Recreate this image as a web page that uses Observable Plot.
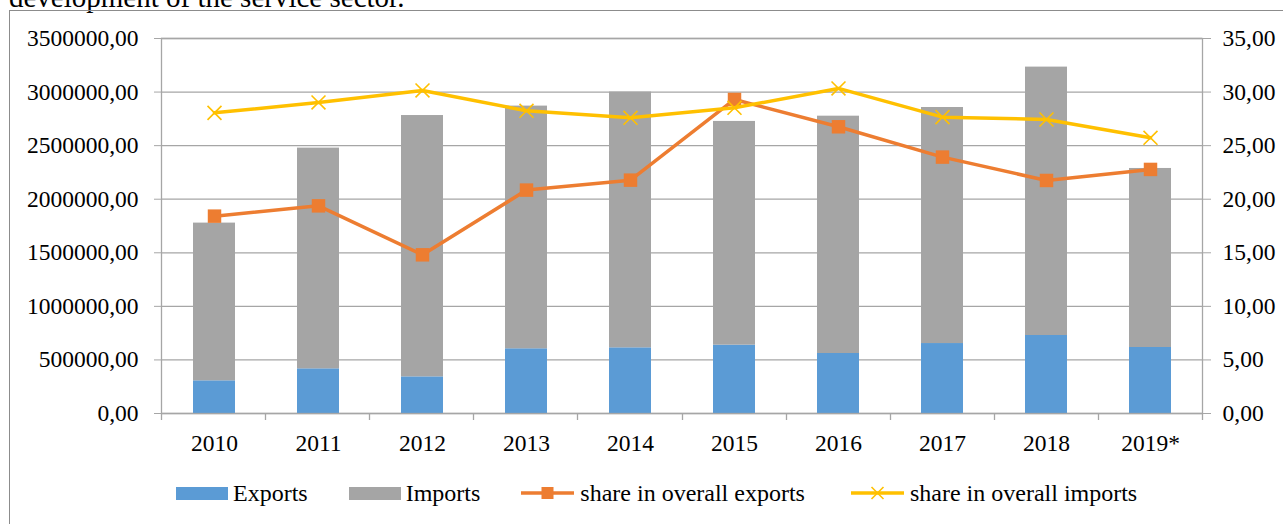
<!DOCTYPE html>
<html>
<head>
<meta charset="utf-8">
<script src="https://cdn.jsdelivr.net/npm/d3@7"></script>
<script src="https://cdn.jsdelivr.net/npm/@observablehq/plot@0.6"></script>
<style>
  html, body { margin: 0; padding: 0; background: #fff; }
  body { width: 1283px; height: 524px; overflow: hidden; position: relative;
         font-family: "Liberation Serif", "Times New Roman", serif; color: #000; }
  #title { position: absolute; left: 9px; top: -17px; font-size: 29px; line-height: 29px;
           white-space: nowrap; }
  #box { position: absolute; left: 9px; top: 10px; width: 1300px; height: 600px;
         border: 1px solid #8c8c8c; box-sizing: border-box; }
  #chart { position: absolute; left: 0; top: 0; }
  #legend { position: absolute; left: 176px; top: 480px; height: 26px; display: flex;
            align-items: center; font-size: 24px; line-height: 26px; white-space: nowrap; }
  .item { display: flex; align-items: center; }
  .sw { width: 52px; height: 13px; margin-right: 5px; }
  .ln { margin-right: 6px; display: block; }
</style>
</head>
<body>
<div id="title">development of the service sector.</div>
<div id="box"></div>
<div id="chart"></div>
<div id="legend"></div>
<script>
// ---- data ----
const years = ["2010", "2011", "2012", "2013", "2014", "2015", "2016", "2017", "2018", "2019*"];
const exportsValues = [305000, 417000, 342000, 604000, 613000, 638000, 560000, 653000, 728000, 616000];
const importsValues = [1472000, 2060000, 2439000, 2265000, 2387000, 2088000, 2215000, 2203000, 2505000, 1671000];
const shareExports = [18.42, 19.38, 14.81, 20.85, 21.78, 29.31, 26.76, 23.93, 21.75, 22.78];
const shareImports = [28.06, 29.03, 30.15, 28.25, 27.60, 28.53, 30.34, 27.66, 27.44, 25.73];
const leftTicks = [0, 500000, 1000000, 1500000, 2000000, 2500000, 3000000, 3500000];
const rightTicks = [0, 5, 10, 15, 20, 25, 30, 35];
const seriesNames = ["Exports", "Imports", "share in overall exports", "share in overall imports"];

// right axis (0–35) mapped onto the left axis (0–3 500 000)
const rightFactor = leftTicks[leftTicks.length - 1] / rightTicks[rightTicks.length - 1];

const colors = { Exports: "#5b9bd5", Imports: "#a5a5a5", shareExp: "#ed7d31", shareImp: "#ffc000" };
const gridColor = "#a6a6a6";
const fmt = v => v.toFixed(2).replace(".", ",");

const bars = years.flatMap((y, i) => [
  { year: y, type: "Exports", value: exportsValues[i] },
  { year: y, type: "Imports", value: importsValues[i] }
]);
const shares = years.map((y, i) => ({ year: y, exp: shareExports[i], imp: shareImports[i] }));

const xTicks = (index, scales, values, dims) => {
  const g = d3.create("svg:g").attr("stroke", gridColor).attr("stroke-width", 1.3);
  const x0 = dims.marginLeft, x1 = dims.width - dims.marginRight;
  const yb = dims.height - dims.marginBottom;
  const n = years.length;
  for (let i = 0; i <= n; i++) {
    const x = Math.round(x0 + i * (x1 - x0) / n) + 0.5;
    g.append("line").attr("x1", x).attr("x2", x).attr("y1", yb).attr("y2", yb + 7);
  }
  return g.node();
};

const chart = Plot.plot({
  width: 1283,
  height: 460,
  marginTop: 38,
  marginBottom: 47,
  marginLeft: 161,
  marginRight: 81,
  style: { fontFamily: "'Liberation Serif', 'Times New Roman', serif", fontSize: "23.5px", color: "#000", background: "transparent", overflow: "visible" },
  x: { type: "band", domain: years, padding: 0 },
  y: { domain: [0, 3500000] },
  color: { domain: ["Exports", "Imports"], range: [colors.Exports, colors.Imports] },
  marks: [
    Plot.gridY({ ticks: leftTicks, stroke: gridColor, strokeOpacity: 1, strokeWidth: 1.3 }),
    Plot.barY(bars, Plot.stackY({ x: "year", y: "value", fill: "type", insetLeft: 31, insetRight: 31 })),
    Plot.frame({ stroke: gridColor, strokeWidth: 1.3 }),
    Plot.axisY({ ticks: leftTicks, tickSize: 7, tickPadding: 16, tickFormat: fmt, stroke: gridColor, fill: "#000", label: null }),
    Plot.axisY({ anchor: "right", ticks: rightTicks.map(v => v * rightFactor), tickSize: 8, tickPadding: 12,
                 tickFormat: v => fmt(v / rightFactor), stroke: gridColor, fill: "#000", label: null }),
    Plot.axisX({ tickSize: 0, tickPadding: 21, fill: "#000", label: null }),
    xTicks,
    Plot.line(shares, { x: "year", y: d => d.exp * rightFactor, stroke: colors.shareExp, strokeWidth: 3.5 }),
    Plot.dot(shares, { x: "year", y: d => d.exp * rightFactor, symbol: "square", r: 7.6, fill: colors.shareExp, stroke: "none" }),
    Plot.line(shares, { x: "year", y: d => d.imp * rightFactor, stroke: colors.shareImp, strokeWidth: 3.5 }),
    Plot.dot(shares, { x: "year", y: d => d.imp * rightFactor, symbol: "times", r: 6.4, stroke: colors.shareImp, strokeWidth: 1.6 })
  ]
});
document.getElementById("chart").appendChild(chart);

// ---- legend ----
const legend = d3.select("#legend");
function rectItem(name, color, gap) {
  const it = legend.append("div").attr("class", "item").style("margin-right", gap + "px");
  it.append("div").attr("class", "sw").style("background", color);
  it.append("span").text(name);
}
function lineItem(name, color, marker, gap) {
  const it = legend.append("div").attr("class", "item").style("margin-right", gap + "px");
  const s = it.append("svg").attr("class", "ln").attr("width", 53).attr("height", 16);
  s.append("line").attr("x1", 0).attr("x2", 53).attr("y1", 8).attr("y2", 8)
    .attr("stroke", color).attr("stroke-width", 3.5);
  if (marker === "square") {
    s.append("rect").attr("x", 20.5).attr("y", 2).attr("width", 12).attr("height", 12).attr("fill", color);
  } else {
    s.append("path").attr("d", "M20.5,2L32.5,14M20.5,14L32.5,2").attr("stroke", color).attr("stroke-width", 1.6);
  }
  it.append("span").text(name);
}
rectItem(seriesNames[0], colors.Exports, 41);
rectItem(seriesNames[1], colors.Imports, 41);
lineItem(seriesNames[2], colors.shareExp, "square", 46);
lineItem(seriesNames[3], colors.shareImp, "times", 0);
</script>
</body>
</html>
